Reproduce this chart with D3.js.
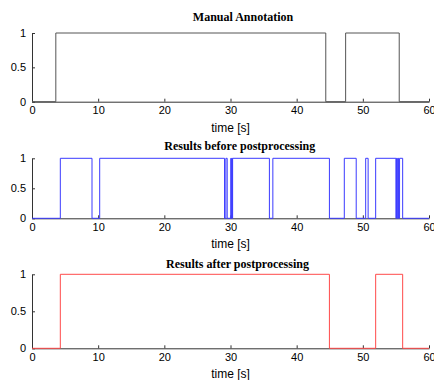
<!DOCTYPE html>
<html>
<head>
<meta charset="utf-8">
<script src="https://cdn.jsdelivr.net/npm/d3@7"></script>
<style>
  body { margin: 0; background: #fff; }
  svg { display: block; }
</style>
</head>
<body>
<div id="chart"></div>
<script>
// data: time intervals [start, end] in seconds where the signal is 1
const manualIntervals = [[3.6, 44.4], [47.4, 55.5]];
const beforeIntervals = [
  [4.28, 9.07], [10.23, 29.1], [29.3, 29.5], [30.05, 30.1], [30.2, 30.25],
  [30.32, 35.88], [36.4, 44.95], [47.2, 49.0], [50.43, 50.8],
  [51.94, 55.0], [55.1, 55.2], [55.3, 55.4], [55.55, 56.02]
];
const afterIntervals = [[4.28, 44.95], [51.94, 56.02]];

const panelTitles = ["Manual Annotation", "Results before postprocessing", "Results after postprocessing"];
const xTicks = [0, 10, 20, 30, 40, 50, 60];
const yTicks = [0, 0.5, 1];
const xLabel = "time [s]";
const timeEnd = 60;

const W = 434, H = 380;
const left = 32, right = 429;

// panel layout (pixel positions)
const panels = [
  { data: manualIntervals, color: "#555", top: 33, bottom: 101.7, titleY: 17, titleX: 243 },
  { data: beforeIntervals, color: "#3a3aff", top: 158.3, bottom: 218.3, titleY: 145.5, titleX: 239.7 },
  { data: afterIntervals, color: "#ff4a4a", top: 274.3, bottom: 348.3, titleY: 263.3, titleX: 237.5 }
];

const svg = d3.select("#chart")
  .append("svg")
  .attr("width", W)
  .attr("height", H);

const x = d3.scaleLinear().domain([0, timeEnd]).range([left, right]);

// turn intervals into step points
function toSteps(intervals) {
  const pts = [[0, 0]];
  intervals.forEach(([a, b]) => {
    pts.push([a, 0], [a, 1], [b, 1], [b, 0]);
  });
  pts.push([timeEnd, 0]);
  return pts;
}

panels.forEach((p, i) => {
  const y = d3.scaleLinear().domain([0, 1]).range([p.bottom, p.top]);
  const g = svg.append("g");

  // x axis
  g.append("g")
    .attr("transform", `translate(0,${p.bottom})`)
    .style("font-family", "Arial, 'Liberation Sans', sans-serif")
    .style("font-size", "11px")
    .call(d3.axisBottom(x)
      .tickValues(xTicks)
      .tickSizeInner(-3)
      .tickSizeOuter(0)
      .tickPadding(5)
      .tickFormat(d3.format("d")))
    .call(a => a.selectAll("path, line").attr("stroke", "#333"))
    .call(a => a.selectAll("text").attr("fill", "#000"));

  // y axis
  g.append("g")
    .attr("transform", `translate(${left},0)`)
    .style("font-family", "Arial, 'Liberation Sans', sans-serif")
    .style("font-size", "11px")
    .call(d3.axisLeft(y)
      .tickValues(yTicks)
      .tickSizeInner(-3)
      .tickSizeOuter(0)
      .tickPadding(6)
      .tickFormat(d => d))
    .call(a => a.selectAll("path, line").attr("stroke", "#333"))
    .call(a => a.selectAll("text").attr("fill", "#000"));

  // step line
  const line = d3.line()
    .x(d => x(d[0]))
    .y(d => y(d[1]));

  g.append("path")
    .datum(toSteps(p.data))
    .attr("fill", "none")
    .attr("stroke", p.color)
    .attr("stroke-width", 1)
    .attr("d", line);

  // title
  g.append("text")
    .attr("x", p.titleX)
    .attr("y", p.titleY)
    .attr("dy", "0.35em")
    .style("text-anchor", "middle")
    .style("font-family", "'Times New Roman', 'Liberation Serif', serif")
    .style("font-weight", "bold")
    .style("font-size", "12px")
    .text(panelTitles[i]);

  // x label
  g.append("text")
    .attr("x", (left + right) / 2)
    .attr("y", p.bottom + 25.7)
    .attr("dy", "0.35em")
    .style("text-anchor", "middle")
    .style("font-family", "Arial, 'Liberation Sans', sans-serif")
    .style("font-size", "12px")
    .text(xLabel);
});
</script>
</body>
</html>
